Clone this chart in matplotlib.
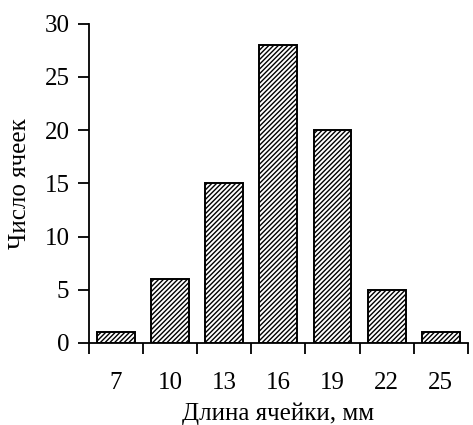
import matplotlib.pyplot as plt
import numpy as np

lengths = ["7", "10", "13", "16", "19", "22", "25"]
counts = [1, 6, 15, 28, 20, 5, 1]

plt.rcParams['font.family'] = ['Liberation Serif', 'DejaVu Serif']
plt.rcParams['hatch.linewidth'] = 1.0

fig = plt.figure(figsize=(4.73, 4.25), dpi=100)
ax = fig.add_axes([0.188, 0.193, 0.801, 0.751])

x = np.arange(len(counts))
ax.bar(x, counts, width=0.7, color='white', edgecolor='black', linewidth=1.4, hatch='///////')

ax.set_xlim(-0.5, len(counts) - 0.5)
ax.set_ylim(0, 30)
ax.set_yticks(range(0, 31, 5))
ax.set_xticks(np.append(x - 0.5, len(counts) - 0.5))
ax.set_xticklabels([])
ax.set_xticks(x, minor=True)
ax.set_xticklabels(lengths, minor=True)
ax.tick_params(axis='x', which='minor', length=0, pad=21, labelsize=18)
ax.tick_params(axis='x', which='major', length=8, width=1.3, direction='out')
ax.tick_params(axis='y', length=8, width=1.3, labelsize=18, pad=6)

for s in ['top', 'right']:
    ax.spines[s].set_visible(False)
for s in ['left', 'bottom']:
    ax.spines[s].set_linewidth(1.3)

ax.set_xlabel("Длина ячейки, мм", fontsize=18, labelpad=6)
ax.set_ylabel("Число ячеек", fontsize=18, labelpad=10)

fig.savefig("out.png", dpi=100)
